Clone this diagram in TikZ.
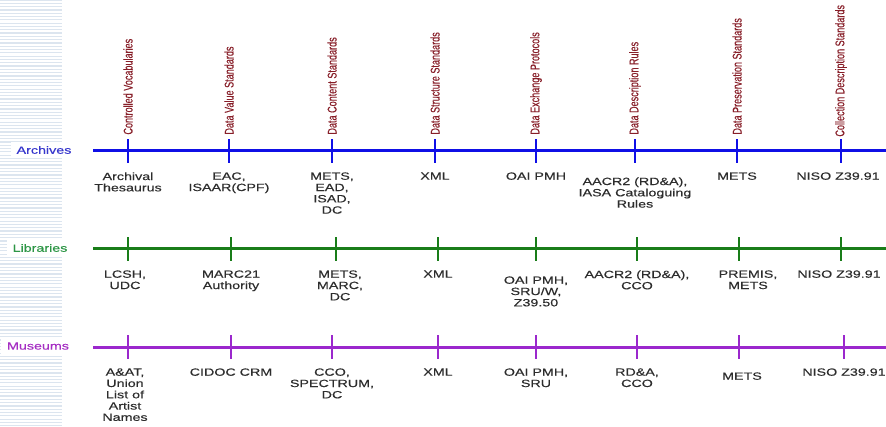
\documentclass[tikz,border=0pt]{standalone}
\usepackage{fontspec}
\setmainfont{Liberation Sans}
\newfontfamily\widesf[FakeStretch=1.36,FakeBold=0.35]{Liberation Sans}
\newfontfamily\narrowsf[FakeStretch=0.72,FakeBold=0.35]{Liberation Sans}
\usetikzlibrary{positioning}
\definecolor{archblue}{RGB}{15,15,230}
\definecolor{archtext}{RGB}{55,55,205}
\definecolor{libgreen}{RGB}{25,125,25}
\definecolor{libtext}{RGB}{45,150,70}
\definecolor{musviolet}{RGB}{155,40,205}
\definecolor{mustext}{RGB}{165,45,195}
\definecolor{kindred}{RGB}{135,30,40}
\definecolor{itemgray}{RGB}{45,45,45}
\definecolor{stripe}{RGB}{220,229,239}

\begin{document}
\begin{tikzpicture}[x=1pt,y=1pt,node distance=8pt,
  every node/.style={font=\widesf\fontsize{10.5}{11.3}\selectfont, align=center},
  item/.style={text=itemgray, inner sep=1pt},
  kind/.style={rotate=90, text=kindred, inner sep=1pt,
    font=\narrowsf\fontsize{12.6}{13}\selectfont},
  row/.style={fill=white, inner xsep=6pt, inner ysep=4pt},
  tick/.style={fill=#1, minimum width=2.5pt, minimum height=24pt, inner sep=0pt},
  axis/.style={draw=#1, line width=3pt}]
  \useasboundingbox (0,0) rectangle (886,-426);
  \foreach \n in {0,...,129}
    \draw[stripe, line width=1.2pt] (0,-3.3*\n) -- (62,-3.3*\n);

  % rows
  \node (AR) [row, text=archtext] at (44,-150) {Archives};
  \node (LR) [row, text=libtext]  at (40,-248) {Libraries};
  \node (MR) [row, text=mustext]  at (38,-346) {Museums};
  \coordinate (As) at (93,-150);  \coordinate (Ae) at (886,-150);
  \coordinate (Ls) at (93,-248);  \coordinate (Le) at (886,-248);
  \coordinate (Ms) at (93,-347);  \coordinate (Me) at (886,-347);
  \draw[axis=archblue]  (As) -- (Ae);
  \draw[axis=libgreen]  (Ls) -- (Le);
  \draw[axis=musviolet] (Ms) -- (Me);

  \foreach \i/\x in {1/128,2/229,3/332,4/435,5/536,6/635,7/737,8/841}
    \node (A\i) [tick=archblue] at (\x,-151) {};
  \foreach \i/\x in {1/128,2/231,3/336,4/438,5/536,6/637,7/739,8/841}
    \node (L\i) [tick=libgreen] at (\x,-249) {};
  \foreach \i/\x in {1/128,2/231,3/332,4/438,5/536,6/637,7/739,8/844}
    \node (M\i) [tick=musviolet] at (\x,-347) {};

  % kinds of standards
  \foreach \i/\t in {1/Controlled Vocabularies,2/Data Value Standards,
      3/Data Content Standards,4/Data Structure Standards,
      5/Data Exchange Protocols,6/Data Description Rules,
      7/Data Preservation Standards}
    \node (K\i) [kind, above=3pt of A\i, anchor=west] {\t};
  \node (K8) [kind, above=1pt of A8, anchor=west] {Collection Description Standards};

  % archives
  \node (a1) [item, below=of A1] {Archival\\Thesaurus};
  \node (a2) [item, below=of A2] {EAC,\\ISAAR(CPF)};
  \node (a3) [item, below=of A3] {METS,\\EAD,\\ISAD,\\DC};
  \node (a4) [item, below=of A4] {XML};
  \node (a5) [item, below=of A5] {OAI PMH};
  \node (a6) [item, below=13pt of A6] {AACR2 (RD\&A),\\IASA Cataloguing\\Rules};
  \node (a7) [item, below=of A7] {METS};
  \node (a8) [item, below=of A8, xshift=-3pt] {NISO Z39.91};

  % libraries
  \node (l1) [item, below=of L1, xshift=-3pt] {LCSH,\\UDC};
  \node (l2) [item, below=of L2] {MARC21\\Authority};
  \node (l3) [item, below=of L3, xshift=4pt] {METS,\\MARC,\\DC};
  \node (l4) [item, below=of L4] {XML};
  \node (l5) [item, below=14pt of L5] {OAI PMH,\\SRU/W,\\Z39.50};
  \node (l6) [item, below=of L6] {AACR2 (RD\&A),\\CCO};
  \node (l7) [item, below=of L7, xshift=9pt] {PREMIS,\\METS};
  \node (l8) [item, below=of L8, xshift=-2pt] {NISO Z39.91};

  % museums
  \node (m1) [item, below=of M1, xshift=-3pt] {A\&AT,\\Union\\List of\\Artist\\Names};
  \node (m2) [item, below=of M2] {CIDOC CRM};
  \node (m3) [item, below=of M3] {CCO,\\SPECTRUM,\\DC};
  \node (m4) [item, below=of M4] {XML};
  \node (m5) [item, below=of M5] {OAI PMH,\\SRU};
  \node (m6) [item, below=of M6] {RD\&A,\\CCO};
  \node (m7) [item, below=12pt of M7, xshift=3pt] {METS};
  \node (m8) [item, below=of M8] {NISO Z39.91};
\end{tikzpicture}
\end{document}
